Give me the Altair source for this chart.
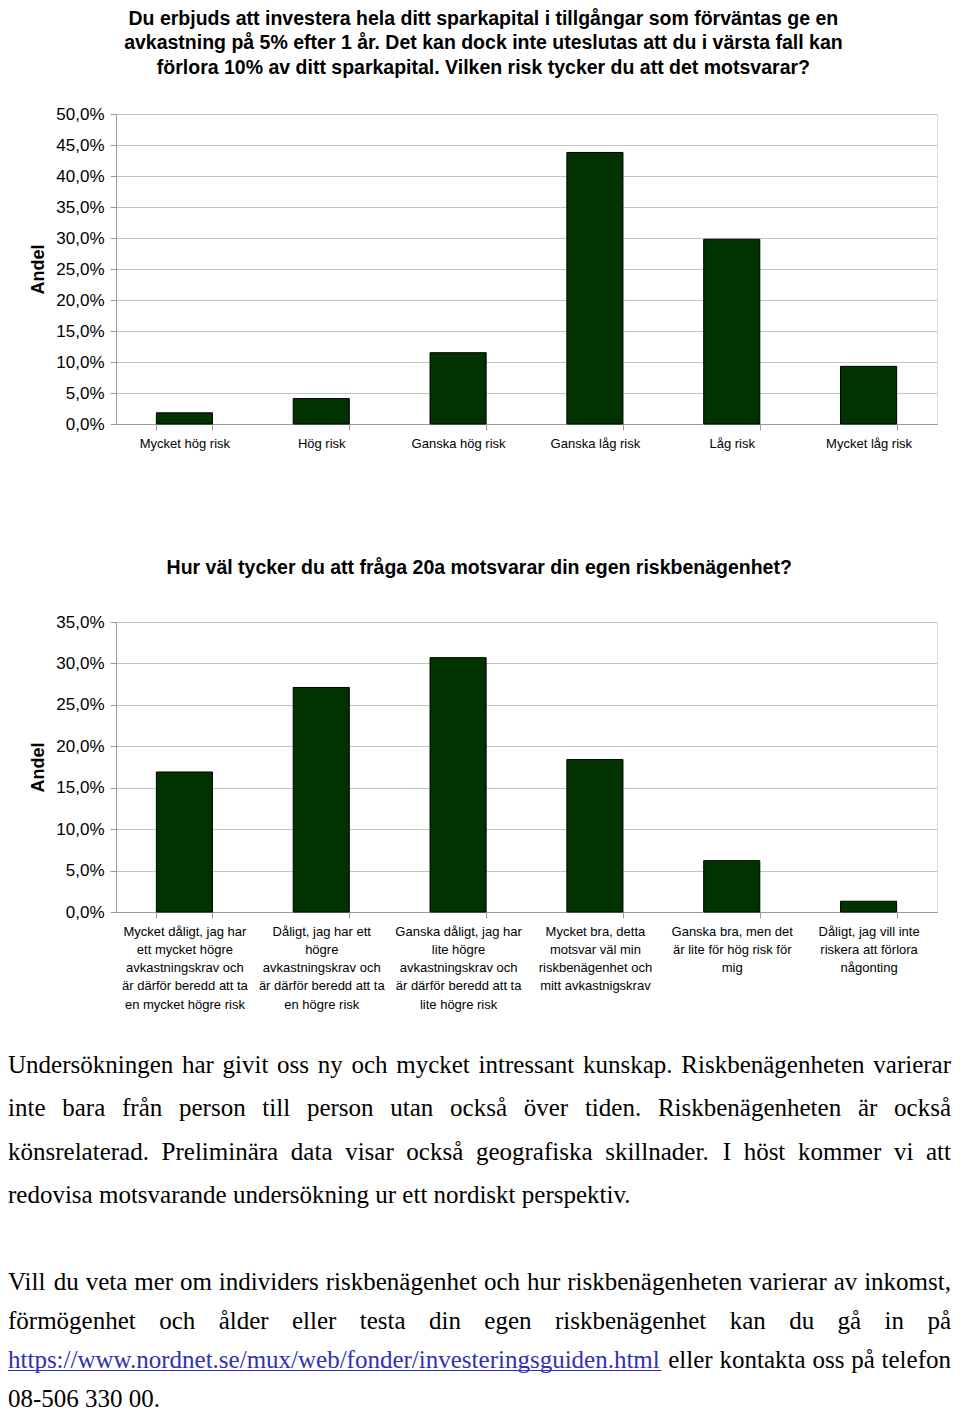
import altair as alt
import pandas as pd

FONT = "Liberation Sans"
SERIF = "Liberation Serif"

# ---------------- data ----------------
title1 = [
    "Du erbjuds att investera hela ditt sparkapital i tillgångar som förväntas ge en",
    "avkastning på 5% efter 1 år. Det kan dock inte uteslutas att du i värsta fall kan",
    "förlora 10% av ditt sparkapital. Vilken risk tycker du att det motsvarar?",
]
cats1 = ["Mycket hög risk", "Hög risk", "Ganska hög risk", "Ganska låg risk", "Låg risk", "Mycket låg risk"]
vals1 = [1.8, 4.1, 11.5, 43.8, 29.8, 9.3]
ticks1 = [0, 5, 10, 15, 20, 25, 30, 35, 40, 45, 50]

title2 = "Hur väl tycker du att fråga 20a motsvarar din egen riskbenägenhet?"
cats2_lines = [
    ["Mycket dåligt, jag har", "ett mycket högre", "avkastningskrav och", "är därför beredd att ta", "en mycket högre risk"],
    ["Dåligt, jag har ett", "högre", "avkastningskrav och", "är därför beredd att ta", "en högre risk"],
    ["Ganska dåligt, jag har", "lite högre", "avkastningskrav och", "är därför beredd att ta", "lite högre risk"],
    ["Mycket bra, detta", "motsvar väl min", "riskbenägenhet och", "mitt avkastnigskrav"],
    ["Ganska bra, men det", "är lite för hög risk för", "mig"],
    ["Dåligt, jag vill inte", "riskera att förlora", "någonting"],
]
vals2 = [16.9, 27.1, 30.7, 18.4, 6.2, 1.3]
ticks2 = [0, 5, 10, 15, 20, 25, 30, 35]

para1 = [
    "Undersökningen har givit oss ny och mycket intressant kunskap. Riskbenägenheten varierar",
    "inte bara från person till person utan också över tiden. Riskbenägenheten är också",
    "könsrelaterad. Preliminära data visar också geografiska skillnader. I höst kommer vi att",
    "redovisa motsvarande undersökning ur ett nordiskt perspektiv.",
]
para2 = [
    "Vill du veta mer om individers riskbenägenhet och hur riskbenägenheten varierar av inkomst,",
    "förmögenhet och ålder eller testa din egen riskbenägenhet kan du gå in på",
    "https://www.nordnet.se/mux/web/fonder/investeringsguiden.html eller kontakta oss på telefon",
    "08-506 330 00.",
]
url = "https://www.nordnet.se/mux/web/fonder/investeringsguiden.html"

# ---------------- layout constants ----------------
PLOT_W = 821
H1, H2 = 310, 290
BAR_FILL = "#003300"
AXIS_GRAY = "#9a9a9a"
GRID_GRAY = "#c4c4c4"
LINK = "#3030b8"
TITLE_FS = 19.5

# paragraph layout (page coordinates) relative to chart-2 plot origin
ORIGIN_X, ORIGIN_Y = 116, 622
TXT_LEFT, TXT_RIGHT = 8, 951
FS = 25
PARA_START = [1073, 1290]
PARA_STEP = [43.4, 39.0]

# Times / Liberation Serif advance widths (per 1000 em)
WIDTHS = {" ": 250, ",": 250, ".": 250, "-": 333, "/": 278, ":": 278, "?": 444, "%": 833}
for c in "0123456789":
    WIDTHS[c] = 500
WIDTHS.update(dict(zip("ABCDEFGHIJKLMNOPQRSTUVWXYZ",
                       [722, 667, 667, 722, 611, 556, 722, 722, 333, 389, 722, 611, 889,
                        722, 722, 556, 722, 667, 556, 611, 722, 722, 944, 722, 722, 611])))
WIDTHS.update(dict(zip("abcdefghijklmnopqrstuvwxyz",
                       [444, 500, 444, 500, 444, 333, 500, 500, 278, 278, 500, 278, 778,
                        500, 500, 500, 500, 333, 389, 278, 500, 500, 722, 500, 500, 444])))
WIDTHS.update({"å": 444, "ä": 444, "ö": 500, "Ö": 722, "Å": 722, "Ä": 722})


def tw(s):
    return sum(WIDTHS.get(c, 500) for c in s) / 1000.0 * FS


left_rows, right_rows, ul_rows = [], [], []
for p, lines in enumerate([para1, para2]):
    for i, line in enumerate(lines):
        yb = PARA_START[p] + i * PARA_STEP[p] - ORIGIN_Y
        last = i == len(lines) - 1
        if last:
            left_rows.append({"x": TXT_LEFT - ORIGIN_X, "y": yb, "word": line, "col": "black"})
            continue
        words = line.split(" ")
        total = sum(tw(w) for w in words)
        gap = (TXT_RIGHT - TXT_LEFT - total) / (len(words) - 1)
        x = TXT_LEFT
        for j, w in enumerate(words):
            col = LINK if w == url else "black"
            if j == len(words) - 1:
                right_rows.append({"x": TXT_RIGHT - ORIGIN_X, "y": yb, "word": w, "col": col})
            else:
                left_rows.append({"x": x - ORIGIN_X, "y": yb, "word": w, "col": col})
            if w == url:
                ul_rows.append({"x": x - ORIGIN_X, "x2": x + tw(w) - ORIGIN_X, "y": yb + 2.5})
            x += tw(w) + gap

df1 = pd.DataFrame({"cat": cats1, "val": vals1})
cats2 = ["\n".join(l) for l in cats2_lines]
df2 = pd.DataFrame({"cat": cats2, "val": vals2})

YFMT = "replace(format(datum.value, '.1f'), '.', ',') + '%'"


def x_axis(expr=None):
    kw = dict(title=None, labelAngle=0, labelFontSize=13, labelFont=FONT, labelColor="black",
              tickBand="extent", tickSize=6, tickColor=AXIS_GRAY, domainColor=AXIS_GRAY,
              labelPadding=7, labelLimit=250, grid=False, labelLineHeight=18.3)
    if expr:
        kw["labelExpr"] = expr
    return alt.Axis(**kw)


def y_axis(ticks):
    return alt.Axis(title="Andel", titleFont=FONT, titleFontSize=18, titleFontWeight="bold",
                    titleColor="black", titlePadding=8, values=ticks, labelExpr=YFMT,
                    labelFontSize=17, labelFont=FONT, labelColor="black", tickSize=6,
                    tickColor=AXIS_GRAY, domainColor=AXIS_GRAY, gridColor=GRID_GRAY,
                    labelPadding=6)


xscale = alt.Scale(paddingInner=0.59, paddingOuter=0.295)

chart1 = alt.Chart(df1).mark_bar(color=BAR_FILL, stroke="black", strokeWidth=1).encode(
    x=alt.X("cat:N", sort=cats1, scale=xscale, axis=x_axis()),
    y=alt.Y("val:Q", scale=alt.Scale(domain=[0, 50], nice=False), axis=y_axis(ticks1)),
).properties(
    width=PLOT_W, height=H1,
    title=alt.Title(text=title1, font=FONT, fontSize=TITLE_FS, fontWeight="bold", color="black",
                    lineHeight=24.5, anchor="middle", frame="bounds", offset=27),
)

bars2 = alt.Chart(df2).mark_bar(color=BAR_FILL, stroke="black", strokeWidth=1).encode(
    x=alt.X("cat:N", sort=cats2, scale=xscale, axis=x_axis("split(datum.label, '\\n')")),
    y=alt.Y("val:Q", scale=alt.Scale(domain=[0, 35], nice=False), axis=y_axis(ticks2)),
)

txt_left = alt.Chart(pd.DataFrame(left_rows)).mark_text(
    align="left", baseline="alphabetic", font=SERIF, fontSize=FS
).encode(
    x=alt.X("x:Q", scale=None, axis=None),
    y=alt.Y("y:Q", scale=None, axis=None),
    text="word:N",
    color=alt.Color("col:N", scale=None),
)
txt_right = alt.Chart(pd.DataFrame(right_rows)).mark_text(
    align="right", baseline="alphabetic", font=SERIF, fontSize=FS
).encode(
    x=alt.X("x:Q", scale=None, axis=None),
    y=alt.Y("y:Q", scale=None, axis=None),
    text="word:N",
    color=alt.Color("col:N", scale=None),
)
underline = alt.Chart(pd.DataFrame(ul_rows)).mark_rule(color=LINK, strokeWidth=1.2).encode(
    x=alt.X("x:Q", scale=None, axis=None),
    x2="x2:Q",
    y=alt.Y("y:Q", scale=None, axis=None),
)

chart2 = alt.layer(bars2, txt_left, txt_right, underline).resolve_scale(
    x="independent", y="independent"
).properties(
    width=PLOT_W, height=H2,
    title=alt.Title(text=title2, font=FONT, fontSize=TITLE_FS, fontWeight="bold", color="black",
                    anchor="middle", frame="bounds", offset=35),
)

chart = alt.vconcat(chart1, chart2, spacing=106).properties(
    padding={"top": 0, "bottom": 0, "left": -2, "right": 0}
).configure_view(stroke=None).configure(background="white")

chart.save("out.html", embed_options={"renderer": "svg", "actions": False})
